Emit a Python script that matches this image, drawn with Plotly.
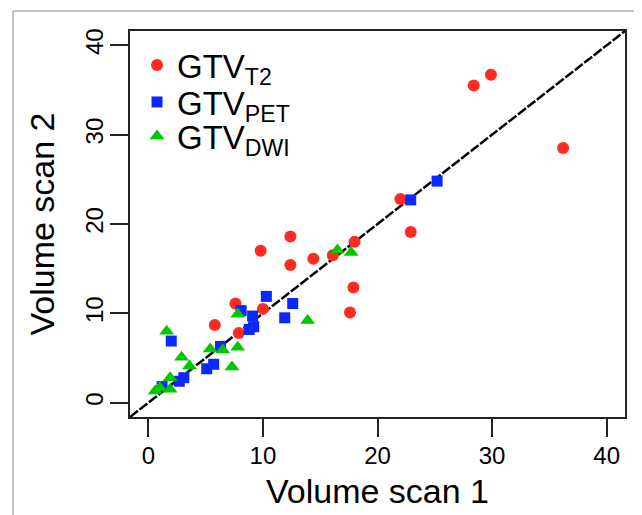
import plotly.graph_objects as go

# ---- data ----
t2_x = [29.9, 28.4, 36.2, 22.0, 22.9, 12.4, 12.4, 14.4, 16.1, 18.0, 17.9, 17.6, 9.8, 7.6, 5.8, 7.9, 10.0]
t2_y = [36.7, 35.5, 28.5, 22.8, 19.1, 18.6, 15.4, 16.1, 16.5, 18.0, 12.9, 10.1, 17.0, 11.1, 8.7, 7.8, 10.5]

pet_x = [25.2, 22.9, 12.6, 11.9, 10.3, 8.1, 9.1, 9.2, 8.8, 2.0, 6.3, 5.7, 5.1, 3.1, 2.7, 1.2]
pet_y = [24.8, 22.7, 11.1, 9.5, 11.9, 10.3, 9.7, 8.5, 8.2, 6.9, 6.3, 4.3, 3.8, 2.8, 2.4, 1.8]

dwi_x = [16.5, 17.7, 13.9, 1.6, 7.8, 2.9, 3.6, 5.4, 6.5, 7.8, 7.3, 1.9, 1.0, 1.9, 0.6]
dwi_y = [17.1, 16.8, 9.2, 8.0, 9.9, 5.1, 4.1, 6.0, 5.9, 6.2, 4.0, 2.8, 1.7, 1.5, 1.3]

series_names = ["GTV<sub>T2</sub>", "GTV<sub>PET</sub>", "GTV<sub>DWI</sub>"]
tick_vals = [0, 10, 20, 30, 40]
axis_range = [-1.6, 41.6]

FONT = "Liberation Sans, Arial, sans-serif"
AX = "#222222"

fig = go.Figure()

# identity line (abline y = x) spanning the axis range
fig.add_trace(go.Scatter(
    x=axis_range, y=axis_range, mode="lines",
    line=dict(color="black", width=2.5, dash="10px,2px"),
    showlegend=False, hoverinfo="skip"))

fig.add_trace(go.Scatter(x=t2_x, y=t2_y, mode="markers", name=series_names[0], legend="legend",
                         marker=dict(symbol="circle", size=12, color="#FF2A20")))
fig.add_trace(go.Scatter(x=pet_x, y=pet_y, mode="markers", name=series_names[1], legend="legend2",
                         marker=dict(symbol="square", size=11, color="#0A28FF")))
fig.add_trace(go.Scatter(x=dwi_x, y=dwi_y, mode="markers", name=series_names[2], legend="legend3",
                         marker=dict(symbol="triangle-up", size=13, color="#00C800")))

axis_common = dict(
    range=axis_range, tickvals=tick_vals, showgrid=False, zeroline=False,
    showline=True, linecolor=AX, linewidth=1.5, mirror=True,
    ticks="outside", ticklen=18, tickwidth=1.5, tickcolor=AX,
    tickfont=dict(size=24, color="black", family=FONT),
)

leg_common = dict(x=0.0142, xanchor="left", yanchor="middle",
                  bgcolor="rgba(0,0,0,0)", font=dict(size=33, family=FONT, color="black"))

fig.update_layout(
    width=634, height=507,
    margin=dict(l=122, r=17, t=23, b=98),
    paper_bgcolor="white", plot_bgcolor="white",
    font=dict(family=FONT, color="black"),
    xaxis=dict(**axis_common, ticklabelstandoff=-2,
               title=dict(text="Volume scan 1", font=dict(size=34, family=FONT), standoff=12)),
    yaxis=dict(**axis_common, tickangle=-90, ticklabelstandoff=-2,
               title=dict(text="Volume scan 2", font=dict(size=34, family=FONT), standoff=16)),
    legend=dict(**leg_common, y=0.912),
    legend2=dict(**leg_common, y=0.816),
    legend3=dict(**leg_common, y=0.728),
    shapes=[dict(type="rect", xref="paper", yref="paper",
                 x0=-0.2364, x1=1.0323, y0=-0.30, y1=1.0518,
                 line=dict(color="#888888", width=1), layer="below")],
)

fig.write_html("out.html")
